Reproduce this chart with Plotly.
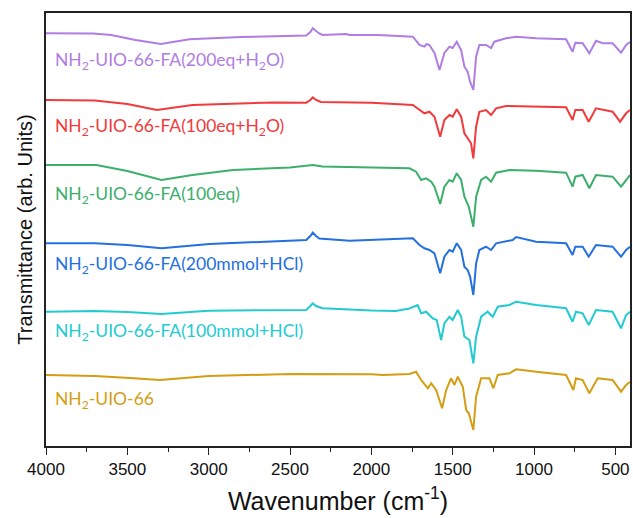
import plotly.graph_objects as go

# ---- data (wavenumber in cm^-1, transmittance in arb. units incl. stacking offset)
wn_purple = [4000, 3712, 3600, 3450, 3294, 3118, 2800, 2545, 2400, 2375, 2360, 2340, 2320, 2300, 2155, 2134, 1960, 1745,
             1704, 1674, 1660, 1643, 1612, 1581, 1551, 1520, 1500, 1475, 1448, 1428, 1408, 1393, 1373, 1356, 1336, 1295,
             1264, 1244, 1172, 1110, 987, 803, 763, 746, 701, 660, 619, 578, 517, 465, 434, 410]
t_purple = [412.7, 412.5, 411, 406, 402, 406.7, 409, 410.3, 410.5, 414, 417.7, 415, 412.5, 411, 412, 411, 411, 409.3,
            401, 399.3, 402, 401, 393, 376, 393, 399.3, 398, 404.3, 396, 379.3, 374.3, 364.3, 356, 389.3, 401, 401,
            398, 404.3, 407.7, 409.3, 407.7, 406.7, 394.3, 403.3, 402.7, 392.7, 405.3, 402.7, 402.7, 393.3, 401, 404]

wn_red = [4000, 3700, 3500, 3318, 3100, 2600, 2400, 2375, 2360, 2340, 2310, 2000, 1745, 1704, 1674, 1643, 1612, 1577,
          1551, 1520, 1500, 1475, 1448, 1428, 1401, 1387, 1373, 1356, 1336, 1295, 1264, 1233, 1172, 987, 803, 763, 746,
          701, 664, 619, 517, 471, 434, 410]
t_red = [346, 345.5, 342, 336, 341, 343.5, 343.3, 346, 348.7, 346, 344, 343.3, 341, 336, 332.7, 334.3, 329.3, 309.3,
         326, 331, 329.3, 336.7, 329.3, 312.7, 306, 302.7, 287.7, 319.3, 334.3, 336, 331, 337.7, 340, 339.3, 338.7, 326,
         336, 336, 324.3, 337.7, 334.3, 324.3, 332.7, 336]

wn_green = [4000, 3690, 3500, 3290, 3100, 2850, 2500, 2360, 2300, 2133, 1766, 1725, 1694, 1663, 1632, 1612, 1577, 1551,
            1520, 1500, 1475, 1448, 1428, 1401, 1373, 1356, 1325, 1295, 1264, 1233, 1151, 987, 803, 763, 746, 701, 660,
            619, 517, 465, 434, 410]
t_green = [281, 281, 275, 266, 271, 276, 278.5, 281, 279.5, 279, 277.7, 274.3, 266, 267.7, 264.3, 259.3, 242, 259.3,
           266, 264.3, 272.7, 266, 249.3, 239.3, 219.3, 249.3, 266, 269.3, 264.3, 273.3, 276, 275.3, 273.3, 259.3, 269.3,
           271, 257.7, 271, 269.3, 259.3, 266, 271]

wn_blue = [4000, 3700, 3500, 3290, 2995, 2600, 2400, 2375, 2360, 2340, 2320, 2134, 1745, 1704, 1674, 1643, 1612, 1577,
           1551, 1520, 1500, 1475, 1448, 1428, 1408, 1393, 1373, 1356, 1336, 1295, 1264, 1233, 1131, 1110, 987, 803, 763,
           746, 701, 664, 619, 517, 465, 434, 410]
t_blue = [202.7, 202.7, 201, 197.7, 202, 205, 206, 210, 213.5, 210, 207.5, 205.3, 207.7, 201, 197.7, 196, 192.7, 172.7,
          189.3, 196, 194.3, 202.7, 196, 179.3, 176, 169.3, 151, 182.7, 196, 199.3, 196, 202.7, 206, 209, 204.3, 202.7,
          191, 199.3, 199.3, 189.3, 201, 199.3, 189.3, 196, 199.3]

wn_cyan = [4000, 3700, 3500, 3290, 3000, 2600, 2400, 2375, 2360, 2340, 2300, 2000, 1850, 1766, 1715, 1694, 1663, 1623,
           1598, 1571, 1551, 1520, 1500, 1469, 1448, 1428, 1397, 1373, 1356, 1325, 1285, 1254, 1223, 1151, 1110, 987,
           803, 763, 742, 701, 664, 619, 517, 465, 434, 410]
t_cyan = [134.3, 135, 134, 132, 135.3, 136, 136, 140, 142.7, 140, 137.7, 135.5, 135, 137.5, 141, 132.7, 134.3, 127.7,
          126, 106, 122.7, 129.3, 126, 136, 129.3, 109.3, 106, 82.7, 109.3, 129.3, 134.3, 129.3, 139.3, 141, 144.3, 141,
          137.7, 124.3, 134.3, 132.7, 121, 136, 134.3, 117.7, 131, 134.3]

wn_gold = [4000, 3700, 3484, 3300, 3000, 2500, 2000, 1930, 1766, 1725, 1694, 1653, 1632, 1602, 1565, 1540, 1510, 1489,
           1469, 1438, 1417, 1401, 1373, 1356, 1325, 1274, 1250, 1223, 1151, 1110, 987, 803, 758, 742, 701, 660, 609,
           517, 465, 434, 410]
t_gold = [71, 70, 68, 66, 70, 72, 71.7, 71, 72, 74.3, 66, 57.7, 62.7, 56, 37.7, 56, 67.7, 61,
          69.3, 59.3, 36, 32.7, 16, 49.3, 67.7, 67.7, 57.7, 71, 72.7, 76.7, 74.3, 71, 56, 67.7, 66, 52.7, 67.7,
          66, 54.3, 61, 64.3]

labels = ["NH<sub>2</sub>-UIO-66-FA(200eq+H<sub>2</sub>O)",
          "NH<sub>2</sub>-UIO-66-FA(100eq+H<sub>2</sub>O)",
          "NH<sub>2</sub>-UIO-66-FA(100eq)",
          "NH<sub>2</sub>-UIO-66-FA(200mmol+HCl)",
          "NH<sub>2</sub>-UIO-66-FA(100mmol+HCl)",
          "NH<sub>2</sub>-UIO-66"]
label_y = [385, 319, 251, 181, 114, 46]
colors = ["#B07DE3", "#F23A3C", "#3BAF6B", "#2470DF", "#22CBD0", "#D39E14"]

series = [(wn_purple, t_purple), (wn_red, t_red), (wn_green, t_green),
          (wn_blue, t_blue), (wn_cyan, t_cyan), (wn_gold, t_gold)]

fig = go.Figure()
for (wx, ty), col, lab in zip(series, colors, labels):
    fig.add_trace(go.Scatter(x=wx, y=ty, mode="lines", line=dict(color=col, width=2),
                             name=lab, showlegend=False))

for lab, ly, col in zip(labels, label_y, colors):
    fig.add_annotation(x=3958, y=ly, xref="x", yref="y", text=lab, showarrow=False,
                       xanchor="left", yanchor="middle",
                       font=dict(family="Lato", size=17.5, color=col))

axis_font = "Liberation Sans, Arial, sans-serif"
fig.update_layout(
    width=633, height=518,
    margin=dict(l=46, r=1, t=13, b=72),
    plot_bgcolor="white", paper_bgcolor="white",
    xaxis=dict(range=[4000, 410], tickmode="linear", tick0=4000, dtick=500,
               ticks="outside", ticklen=7, tickwidth=1.3, tickcolor="#222",
               minor=dict(ticks="outside", ticklen=4, dtick=250, tick0=4000, tickcolor="#222", tickwidth=1.3),
               showline=True, linecolor="#222", linewidth=1.5, mirror=True,
               showgrid=False, zeroline=False,
               tickfont=dict(family=axis_font, size=17, color="#111"),
               title=dict(text="Wavenumber (cm<sup>-1</sup>)", standoff=14,
                          font=dict(family=axis_font, size=25, color="#111"))),
    yaxis=dict(range=[0, 433], showticklabels=False, ticks="",
               showline=True, linecolor="#222", linewidth=1.5, mirror=True,
               showgrid=False, zeroline=False,
               title=dict(text="Transmittance (arb. Units)", standoff=6,
                          font=dict(family=axis_font, size=20, color="#111"))),
)

fig.write_html("out.html", config={"displayModeBar": False},
               post_script="document.body.style.margin='0';document.body.style.overflow='hidden';")
